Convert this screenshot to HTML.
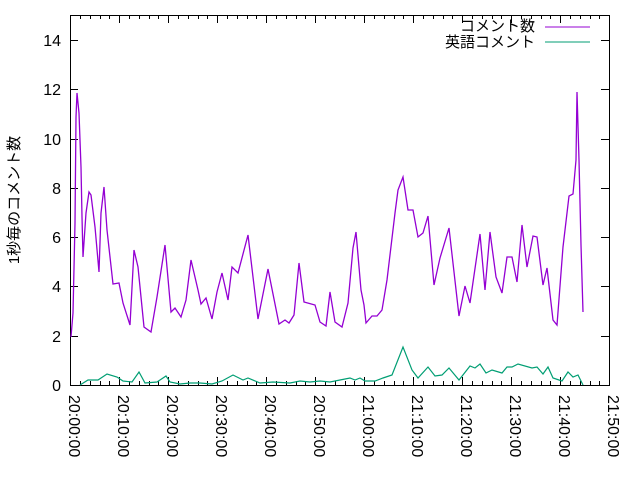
<!DOCTYPE html>
<html><head><meta charset="utf-8"><style>
html,body{margin:0;padding:0;background:#fff;}
svg{display:block;font-family:"Liberation Sans","Noto Sans CJK JP",sans-serif;}
</style></head><body>
<svg width="640" height="480" viewBox="0 0 640 480">
<rect width="640" height="480" fill="#fff"/>
<g stroke="#000" stroke-width="1">
<path d="M70.5 15.5H609.5V385.5H70.5Z" fill="none"/>
<path d="M70 385.5h8M70 336.5h8M70 286.5h8M70 237.5h8M70 188.5h8M70 139.5h8M70 89.5h8M70 40.5h8
M609 336.5h-8M609 286.5h-8M609 237.5h-8M609 188.5h-8M609 139.5h-8M609 89.5h-8M609 40.5h-8"/>
<path d="M70.5 385v-8M119.5 385v-8M168.5 385v-8M217.5 385v-8M266.5 385v-8M315.5 385v-8M364.5 385v-8M413.5 385v-8M462.5 385v-8M511.5 385v-8M560.5 385v-8
M70.5 15v8M119.5 15v8M168.5 15v8M217.5 15v8M266.5 15v8M315.5 15v8M364.5 15v8M413.5 15v8M462.5 15v8M511.5 15v8M560.5 15v8"/>
<path id="minor" d="M80.5 385v-4M90.5 385v-4M100.5 385v-4M109.5 385v-4M129.5 385v-4M139.5 385v-4M149.5 385v-4M158.5 385v-4M178.5 385v-4M188.5 385v-4M198.5 385v-4M207.5 385v-4M227.5 385v-4M237.5 385v-4M247.5 385v-4M256.5 385v-4M276.5 385v-4M286.5 385v-4M296.5 385v-4M305.5 385v-4M325.5 385v-4M335.5 385v-4M345.5 385v-4M354.5 385v-4M374.5 385v-4M384.5 385v-4M394.5 385v-4M403.5 385v-4M423.5 385v-4M433.5 385v-4M443.5 385v-4M452.5 385v-4M472.5 385v-4M482.5 385v-4M492.5 385v-4M501.5 385v-4M521.5 385v-4M531.5 385v-4M541.5 385v-4M550.5 385v-4M570.5 385v-4M580.5 385v-4M590.5 385v-4M599.5 385v-4"/>
<use href="#minor" transform="translate(0,400) scale(1,-1)"/>
</g>
<g font-size="16" fill="#000" text-anchor="end">
<text x="61" y="391">0</text><text x="61" y="342">2</text><text x="61" y="292">4</text><text x="61" y="243">6</text><text x="61" y="194">8</text><text x="61" y="145">10</text><text x="61" y="95">12</text><text x="61" y="46">14</text>
</g>
<g font-size="16" fill="#000">
<text transform="translate(69,395) rotate(90)">20:00:00</text>
<text transform="translate(118,395) rotate(90)">20:10:00</text>
<text transform="translate(167,395) rotate(90)">20:20:00</text>
<text transform="translate(216,395) rotate(90)">20:30:00</text>
<text transform="translate(265,395) rotate(90)">20:40:00</text>
<text transform="translate(314,395) rotate(90)">20:50:00</text>
<text transform="translate(363,395) rotate(90)">21:00:00</text>
<text transform="translate(412,395) rotate(90)">21:10:00</text>
<text transform="translate(461,395) rotate(90)">21:20:00</text>
<text transform="translate(510,395) rotate(90)">21:30:00</text>
<text transform="translate(559,395) rotate(90)">21:40:00</text>
<text transform="translate(608,395) rotate(90)">21:50:00</text>
</g>
<text transform="translate(19,200) rotate(-90)" font-size="15" text-anchor="middle">1秒毎のコメント数</text>
<g font-size="15" text-anchor="end"><text x="535" y="31">コメント数</text><text x="535" y="47">英語コメント</text></g>
<path d="M545 27h45" stroke="#9400d3"/><path d="M545 42h45" stroke="#009e73"/>
<polyline fill="none" stroke="#9400d3" stroke-width="1.3" points="71,337 73,313 75,223 76,117 77,93 79,113 81,167 82,217 83,257 86,213 89,192 91,195 95,227 99,272 101,213 104,187 107,230 113,284 119,283 123,303 130,325 134,250 138,267 144,327 151,332 157,297 165,245 171,312 175,308 181,317 186,300 191,260 198,290 201,304 206,298 212,319 217,292 222,273 228,300 232,267 238,273 248,235 258,319 268,269 279,324 285,320 289,323 294,315 299,263 304,302 315,305 320,322 326,326 330,292 335,322 342,327 348,303 353,248 356,232 361,290 364,305 366,323 372,316 377,316 382,310 387,280 395,213 398,190 403,177 408,210 413,210 418,237 423,233 428,216 434,285 440,258 449,228 459,316 465,286 470,303 480,234 485,290 490,232 496,277 502,293 507,257 512,257 517,282 522,225 527,267 533,236 537,237 543,285 547,268 553,320 557,325 563,247 569,196 573,194 576,160 577,92 579,160 581,245 583,312"/>
<polyline fill="none" stroke="#009e73" stroke-width="1.2" points="80,385 88,380 98,380 107,374 117,377 123,381 132,382 139,372 145,383 157,382 166,376 170,382 180,384 190,383 200,383 212,384 222,381 233,375 243,380 248,378 260,383 273,382 290,383 300,381 310,382 320,381 330,382 340,380 350,378 355,380 360,378 365,381 375,381 383,378 392,375 403,347 412,370 418,378 428,367 435,376 442,375 449,368 459,380 470,366 475,368 480,364 486,373 492,370 502,373 507,367 512,367 518,364 532,368 537,367 543,374 548,367 553,378 562,381 568,372 573,377 578,375 583,385"/>
</svg>
</body></html>
